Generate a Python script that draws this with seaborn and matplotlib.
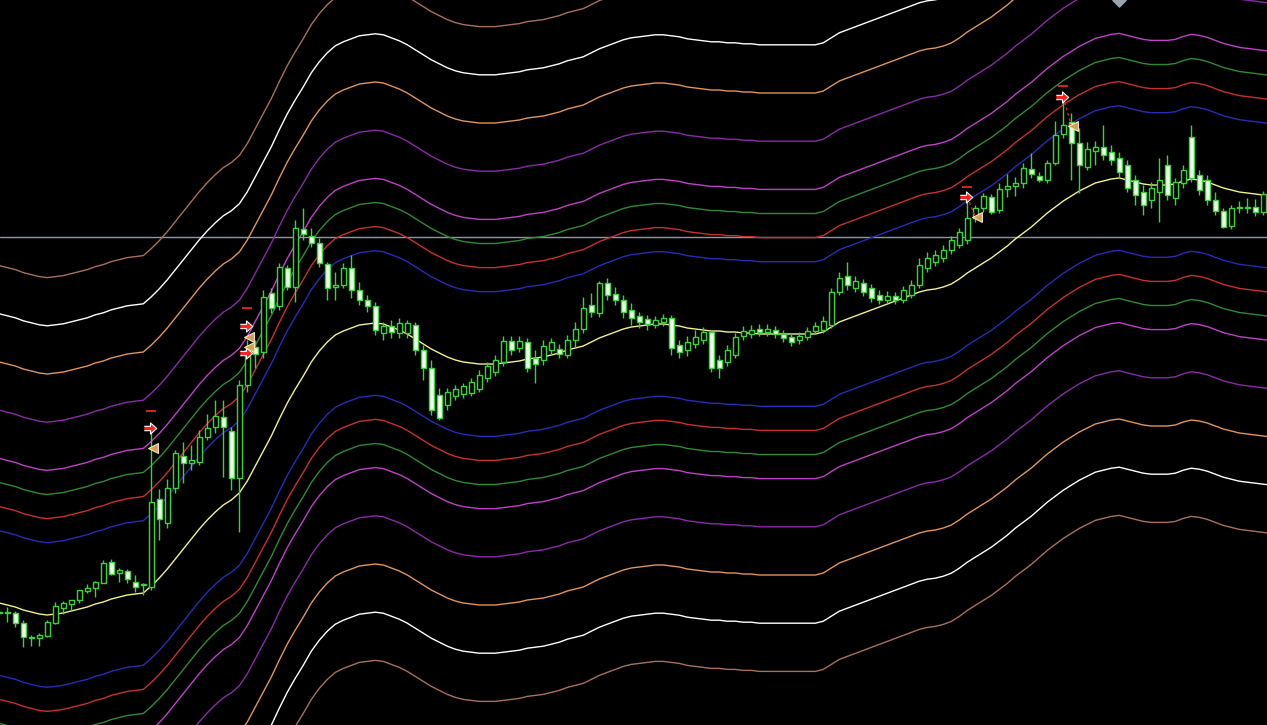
import matplotlib
matplotlib.use('Agg')
import matplotlib.pyplot as plt
import seaborn as sns
import pandas as pd
import numpy as np

# candles, one per bar (bar 0 is the half-hidden one at the left edge)
opens = [1187,1188,1187,1177,1162,1162,1164,1177,1192,1196,1200,1209,1212,1217,1238,1227,1229,1218,1215,1213,1301,
	1277,1312,1344,1337,1338,1363,1373,1383,1369,1322,1415,1453,1448,1507,1494,1532,1513,1571,1564,1557,
	1536,1513,1515,1532,1510,1500,1494,1467,1474,1467,1467,1475,1450,1432,1405,1395,1404,1406,1407,1411,
	1422,1428,1438,1459,1452,1458,1442,1440,1450,1451,1445,1460,1471,1495,1487,1517,1506,1500,1490,1484,
	1481,1475,1478,1482,1455,1450,1456,1460,1468,1440,1438,1445,1464,1466,1471,1468,1470,1466,1463,1460,
	1463,1469,1470,1475,1508,1524,1512,1517,1512,1505,1500,1504,1500,1505,1515,1532,1538,1542,1550,1555,
	1560,1582,1592,1603,1590,1611,1614,1617,1631,1624,1620,1637,1666,1678,1657,1633,1649,1653,1648,1642,
	1635,1620,1608,1600,1608,1635,1602,1617,1663,1625,1620,1600,1589,1574,1592,1592,1593,1588]
highs = [1189,1193,1189,1180,1165,1167,1180,1198,1199,1200,1210,1216,1219,1240,1241,1232,1231,1225,1217,1368,1311,
	1321,1350,1358,1355,1370,1386,1400,1400,1373,1420,1460,1460,1510,1512,1537,1535,1580,1592,1572,1562,
	1538,1528,1537,1545,1518,1505,1498,1478,1480,1482,1480,1478,1455,1440,1412,1412,1415,1417,1422,1430,
	1438,1445,1464,1464,1464,1462,1450,1460,1462,1456,1465,1478,1503,1507,1519,1522,1513,1505,1497,1488,
	1485,1484,1486,1485,1460,1464,1470,1473,1470,1445,1455,1467,1474,1475,1476,1476,1474,1470,1467,1468,
	1473,1478,1484,1512,1528,1538,1524,1521,1516,1510,1509,1508,1514,1520,1542,1548,1550,1555,1564,1572,
	1598,1595,1607,1606,1617,1626,1623,1637,1647,1628,1640,1679,1702,1687,1672,1658,1659,1675,1655,1648,
	1640,1625,1615,1618,1642,1645,1622,1635,1675,1630,1625,1608,1592,1595,1599,1602,1601,1609]
lows = [1186,1178,1173,1153,1154,1154,1163,1176,1186,1189,1197,1207,1203,1217,1225,1218,1217,1208,1205,1210,1260,
	1272,1307,1317,1330,1335,1360,1367,1323,1310,1268,1408,1432,1442,1487,1490,1510,1498,1560,1553,1533,
	1500,1500,1512,1502,1495,1488,1465,1460,1462,1462,1462,1445,1420,1385,1380,1390,1400,1402,1404,1408,
	1418,1424,1434,1445,1448,1428,1417,1435,1445,1442,1442,1453,1467,1483,1483,1500,1495,1482,1475,1472,
	1470,1472,1474,1445,1442,1444,1452,1456,1428,1422,1434,1442,1460,1462,1464,1464,1462,1458,1454,1456,
	1460,1466,1467,1472,1505,1510,1508,1504,1498,1496,1496,1496,1497,1502,1512,1528,1534,1538,1546,1552,
	1556,1578,1588,1586,1587,1603,1604,1612,1622,1618,1617,1635,1662,1620,1607,1630,1635,1640,1635,1622,
	1608,1595,1585,1592,1578,1600,1595,1612,1618,1605,1595,1585,1572,1571,1587,1587,1584,1585]
closes = [1188,1187,1177,1163,1163,1165,1178,1194,1197,1200,1210,1212,1218,1237,1226,1230,1221,1213,1216,1298,1281,
	1312,1347,1337,1340,1363,1372,1384,1373,1322,1415,1450,1446,1503,1492,1533,1513,1572,1566,1557,1537,
	1512,1515,1532,1510,1500,1494,1470,1474,1468,1477,1477,1450,1432,1390,1382,1408,1411,1414,1418,1425,
	1434,1440,1459,1450,1459,1432,1436,1454,1458,1446,1460,1471,1492,1488,1517,1505,1500,1488,1482,1478,
	1476,1480,1482,1452,1448,1458,1463,1468,1432,1432,1450,1463,1469,1470,1468,1471,1466,1462,1458,1464,
	1469,1474,1479,1508,1522,1515,1519,1508,1502,1500,1504,1500,1510,1515,1535,1542,1545,1550,1560,1568,
	1582,1592,1604,1588,1611,1614,1617,1632,1626,1620,1637,1665,1675,1657,1635,1651,1653,1645,1640,1628,
	1612,1605,1595,1612,1620,1605,1618,1630,1622,1610,1600,1589,1573,1592,1593,1593,1588,1606]

# moving average (middle line), one value more on the right than the candles
ma = [1197,1195,1193,1190,1188,1186,1185,1186,1187,1189,1191,1193,1196,1198,1201,1203,1205,1206,1207,1214,1222,
	1231,1241,1251,1261,1271,1280,1288,1295,1300,1307,1319,1334,1349,1364,1381,1397,1411,1424,1438,1449,
	1458,1465,1469,1472,1475,1476,1477,1476,1473,1470,1466,1461,1456,1451,1447,1443,1440,1438,1437,1436,
	1436,1436,1437,1438,1439,1441,1442,1443,1445,1447,1450,1452,1454,1458,1462,1465,1468,1471,1473,1474,
	1475,1476,1476,1475,1474,1472,1471,1470,1469,1469,1468,1468,1467,1467,1466,1466,1466,1466,1466,1466,
	1466,1466,1468,1473,1478,1481,1484,1487,1490,1493,1496,1499,1502,1505,1508,1510,1511,1513,1516,1521,
	1527,1532,1537,1542,1548,1554,1561,1567,1573,1580,1587,1593,1599,1604,1609,1613,1617,1619,1621,1622,
	1620,1618,1616,1615,1615,1615,1616,1619,1621,1620,1618,1615,1612,1610,1608,1607,1606,1605,1604]

# envelope bands: distance = mult * band_unit
band_unit = 24.1
band_mult = [3, 4, 5, 6, 8, 10, 12, 14]
band_colors = ['#2a2ab8', '#c83030', '#2f8a35', '#c040c8', '#8a2aa8', '#e0955a', '#ffffff', '#a8705c']

# trade marks
buy_bar = [19, 31, 31, 121, 133]
buy_price = [1372, 1474, 1447, 1603, 1703]
close_bar = [19, 31, 31, 122, 134]
close_price = [1352, 1463, 1453, 1583, 1674]
dash_bar = [19, 31, 121, 133]
dash_price = [1389, 1492, 1613, 1714]
level = 1563
top_mark_bar = 140


def draw_candles(ax, df):
	up = df.close >= df.open
	ax.vlines(df.bar, df.low, df.high, color='#3cd23c', lw=1, zorder=3)
	bottom = np.minimum(df.open, df.close)
	height = np.maximum(np.abs(df.close - df.open), 0.8)
	ax.bar(df.bar[up], height[up], bottom=bottom[up], width=0.62, color='black',
		edgecolor='#3cd23c', linewidth=1, zorder=4)
	ax.bar(df.bar[~up], height[~up], bottom=bottom[~up], width=0.62, color='#eefee8',
		edgecolor='#3cd23c', linewidth=1, zorder=4)


def main():
	sns.set_theme(style='dark', rc={'axes.facecolor': 'black', 'figure.facecolor': 'black'})
	df = pd.DataFrame({'open': opens, 'high': highs, 'low': lows, 'close': closes})
	df['bar'] = np.arange(len(df))
	ma_df = pd.DataFrame({'ma': ma, 'bar': np.arange(len(ma))})

	fig = plt.figure(figsize=(12.67, 7.25), dpi=100)
	ax = fig.add_axes([0, 0, 1, 1])
	ax.set_facecolor('black')

	for m, c in zip(band_mult, band_colors):
		for sign in (1, -1):
			ma_df['band'] = ma_df.ma + sign * m * band_unit
			sns.lineplot(data=ma_df, x='bar', y='band', color=c, lw=1, ax=ax, zorder=2)
	sns.lineplot(data=ma_df, x='bar', y='ma', color='#f2f28a', lw=1, ax=ax, zorder=2)

	ax.axhline(level, color='#9096a6', lw=1, zorder=1)
	draw_candles(ax, df)

	# trade arrows
	arrow = [(-1, 0.35), (0, 0.35), (0, 0.9), (1, 0), (0, -0.9), (0, -0.35), (-1, -0.35)]
	for b0, p0, b1, p1 in zip(buy_bar[3:], buy_price[3:], close_bar[3:], close_price[3:]):
		ax.plot([b0, b1], [p0, p1], color='#d02020', lw=1, ls=(0, (2, 2)), zorder=5)
	ax.scatter(np.array(buy_bar) - 0.2, buy_price, marker=arrow, s=80, color='#ff2020',
		edgecolors='white', linewidths=0.8, zorder=6)
	ax.scatter(np.array(close_bar) + 0.2, close_price, marker='<', s=50, color='#d2a050',
		edgecolors='#f5e6b8', linewidths=0.8, zorder=6)
	ax.scatter(dash_bar, dash_price, marker='_', s=50, color='#d02020', linewidths=1.5, zorder=6)
	ax.scatter([top_mark_bar], [1800], marker='D', s=45, color='#9aa4b0', zorder=6, clip_on=True)

	# bar 1 sits 7 px from the left edge, 8 px per bar
	ax.set_xlim(0.0875, len(df) - 0.5375)
	ax.set_ylim(1075, 1800)
	ax.set_xlabel('')
	ax.set_ylabel('')
	ax.set_xticks([])
	ax.set_yticks([])
	for s in ax.spines.values():
		s.set_visible(False)
	plt.savefig('out.png', dpi=100, facecolor='black')
	plt.close()


if __name__ == '__main__':
	main()
